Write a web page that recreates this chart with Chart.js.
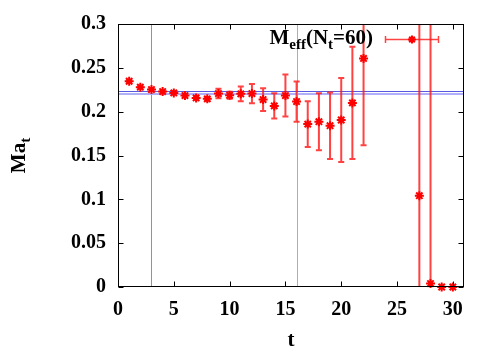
<!DOCTYPE html>
<html>
<head>
<meta charset="utf-8">
<script src="https://cdn.jsdelivr.net/npm/chart.js@4/dist/chart.umd.min.js"></script>
<style>
    html, body { margin: 0; padding: 0; background: #fff; }
    #wrap { width: 500px; height: 350px; }
</style>
</head>
<body>
<div id="wrap"><canvas id="meff-chart" width="500" height="350"></canvas></div>
<script>
// Effective mass data
const tValues  = [1, 2, 3, 4, 5, 6, 7, 8, 9, 10, 11, 12, 13, 14, 15, 16, 17, 18, 19, 20, 21, 22, 27, 28, 29, 30];
const maValues = [0.2347, 0.2279, 0.2252, 0.2229, 0.2214, 0.2184, 0.2157, 0.2146, 0.2207, 0.2187,
                  0.2203, 0.2207, 0.2138, 0.2066, 0.2184, 0.2115, 0.1858, 0.1886, 0.1840, 0.1905,
                  0.2100, 0.2607, 0.1042, 0.0039, 0.0, 0.0];
const maErrors = [0.001, 0.001, 0.001, 0.001, 0.0015, 0.002, 0.002, 0.002, 0.0053, 0.004,
                  0.0084, 0.011, 0.013, 0.0145, 0.024, 0.023, 0.026, 0.0325, 0.038, 0.048,
                  0.064, 0.099, 0.5, 0.5, 0, 0];

// Fit window (vertical lines) and fitted mass (horizontal lines)
const fitWindow = [3, 16];
const fitMass = [0.2234, 0.2204];

// Axis ticks
const xTicks = [0, 5, 10, 15, 20, 25, 30];
const yTicks = [0, 0.05, 0.1, 0.15, 0.2, 0.25, 0.3];
const yTickLabels = ['0', '0.05', '0.1', '0.15', '0.2', '0.25', '0.3'];

const SERIF = "'Liberation Serif', 'Times New Roman', serif";
const RED = 'rgb(255, 0, 0)';
const BAR_RED = 'rgba(255, 20, 20, 0.8)';

// Draws text runs, some of them as subscripts
function drawRuns(ctx, runs, x, y, size, align) {
    const subSize = Math.round(size * 0.72);
    let total = 0;
    runs.forEach(r => {
        ctx.font = 'bold ' + (r.sub ? subSize : size) + 'px ' + SERIF;
        r.w = ctx.measureText(r.text).width;
        total += r.w;
    });
    let cx = x;
    if (align === 'center') cx = x - total / 2;
    if (align === 'right') cx = x - total;
    ctx.textAlign = 'left';
    ctx.textBaseline = 'alphabetic';
    runs.forEach(r => {
        ctx.font = 'bold ' + (r.sub ? subSize : size) + 'px ' + SERIF;
        ctx.fillText(r.text, cx, r.sub ? y + 5 : y);
        cx += r.w;
    });
}

// Error bars, plus the fit lines underneath the points
const errorBars = {
    id: 'errorBars',
    beforeDatasetsDraw(chart) {
        const { ctx, chartArea: a, scales: { x, y } } = chart;
        ctx.save();
        ctx.beginPath();
        ctx.rect(a.left, a.top, a.right - a.left, a.bottom - a.top);
        ctx.clip();

        // fit window
        ctx.strokeStyle = 'rgb(228, 90, 228)';
        fitWindow.forEach((t, i) => {
            ctx.lineWidth = 1;
            ctx.globalAlpha = i === 0 ? 1 : 0.75;
            const px = Math.round(x.getPixelForValue(t)) + 0.5;
            ctx.beginPath();
            ctx.moveTo(px, a.top);
            ctx.lineTo(px, a.bottom);
            ctx.stroke();
        });
        ctx.globalAlpha = 1;

        // fitted mass
        ctx.strokeStyle = 'rgb(90, 90, 225)';
        ctx.lineWidth = 1;
        let py = Math.round(y.getPixelForValue(fitMass[0])) + 0.5;
        ctx.beginPath(); ctx.moveTo(a.left, py); ctx.lineTo(a.right, py); ctx.stroke();
        ctx.strokeStyle = 'rgb(175, 175, 250)';
        ctx.lineWidth = 2;
        py = Math.round(y.getPixelForValue(fitMass[1]));
        ctx.beginPath(); ctx.moveTo(a.left, py); ctx.lineTo(a.right, py); ctx.stroke();

        // vertical error bars
        ctx.strokeStyle = BAR_RED;
        ctx.lineWidth = 2;
        tValues.forEach((t, i) => {
            const e = maErrors[i];
            if (!e) return;
            const px = x.getPixelForValue(t);
            const top = y.getPixelForValue(maValues[i] + e);
            const bot = y.getPixelForValue(maValues[i] - e);
            ctx.beginPath();
            ctx.moveTo(px, top); ctx.lineTo(px, bot);
            ctx.moveTo(px - 3, top); ctx.lineTo(px + 3, top);
            ctx.moveTo(px - 3, bot); ctx.lineTo(px + 3, bot);
            ctx.stroke();
        });
        ctx.restore();
    }
};

// Frame with inward, mirrored ticks, axis titles and the key
const frameAndText = {
    id: 'frameAndText',
    afterDraw(chart) {
        const { ctx, chartArea: a, scales: { x, y } } = chart;
        const L = Math.round(a.left) + 0.5, R = Math.round(a.right) - 0.5;
        const T = Math.round(a.top) + 0.5, B = Math.round(a.bottom) - 0.5;
        ctx.save();
        ctx.strokeStyle = '#000';
        ctx.lineWidth = 1;
        ctx.strokeRect(L, T, R - L, B - T);
        ctx.beginPath();
        xTicks.forEach(v => {
            const px = Math.round(x.getPixelForValue(v)) + 0.5;
            ctx.moveTo(px, B); ctx.lineTo(px, B - 5);
            ctx.moveTo(px, T); ctx.lineTo(px, T + 5);
        });
        yTicks.forEach(v => {
            const py = Math.round(y.getPixelForValue(v)) + 0.5;
            ctx.moveTo(L, py); ctx.lineTo(L + 5, py);
            ctx.moveTo(R, py); ctx.lineTo(R - 5, py);
        });
        ctx.stroke();

        ctx.fillStyle = '#000';
        // x title
        drawRuns(ctx, [{ text: 't' }], (a.left + a.right) / 2, 346, 21, 'center');
        // y title, rotated
        ctx.save();
        ctx.translate(25, (a.top + a.bottom) / 2);
        ctx.rotate(-Math.PI / 2);
        drawRuns(ctx, [{ text: 'Ma' }, { text: 't', sub: true }], 0, 0, 21, 'center');
        ctx.restore();

        // key
        drawRuns(ctx, [{ text: 'M' }, { text: 'eff', sub: true }, { text: '(N' },
                       { text: 't', sub: true }, { text: '=60)' }], 373, 44, 21, 'right');
        ctx.strokeStyle = BAR_RED;
        ctx.lineWidth = 1.5;
        ctx.beginPath();
        ctx.moveTo(385, 39.5); ctx.lineTo(439, 39.5);
        ctx.moveTo(385.5, 36); ctx.lineTo(385.5, 43);
        ctx.moveTo(438.5, 36); ctx.lineTo(438.5, 43);
        ctx.stroke();
        ctx.strokeStyle = RED;
        ctx.lineWidth = 2;
        ctx.beginPath();
        const s = 4;
        ctx.moveTo(412 - s, 39.5); ctx.lineTo(412 + s, 39.5);
        ctx.moveTo(412, 39.5 - s); ctx.lineTo(412, 39.5 + s);
        ctx.moveTo(412 - s * 0.7, 39.5 - s * 0.7); ctx.lineTo(412 + s * 0.7, 39.5 + s * 0.7);
        ctx.moveTo(412 - s * 0.7, 39.5 + s * 0.7); ctx.lineTo(412 + s * 0.7, 39.5 - s * 0.7);
        ctx.stroke();
        ctx.restore();
    }
};

const ctx = document.getElementById('meff-chart').getContext('2d');
const meffChart = new Chart(ctx, {
    type: 'scatter',
    data: {
        datasets: [{
            label: 'M_eff(N_t=60)',
            data: tValues.map((t, i) => ({ x: t, y: maValues[i] })),
            pointStyle: 'star',
            pointRadius: 4.5,
            pointBorderWidth: 2,
            borderColor: RED,
            backgroundColor: RED,
            showLine: false,
            clip: 6
        }]
    },
    options: {
        responsive: false,
        animation: false,
        devicePixelRatio: 1,
        layout: { padding: { top: 24, right: 36, left: 0, bottom: 0 } },
        plugins: {
            legend: { display: false },
            tooltip: { enabled: false }
        },
        scales: {
            x: {
                type: 'linear',
                min: 0,
                max: 31,
                grid: { display: false, drawTicks: false },
                border: { display: false },
                afterBuildTicks: scale => { scale.ticks = xTicks.map(v => ({ value: v })); },
                afterFit: scale => { scale.height = 63; },
                ticks: {
                    padding: 11,
                    color: '#000',
                    maxRotation: 0,
                    font: { family: SERIF, size: 20, weight: 'bold' },
                    callback: v => String(v)
                }
            },
            y: {
                type: 'linear',
                min: 0,
                max: 0.3,
                grid: { display: false, drawTicks: false },
                border: { display: false },
                afterBuildTicks: scale => { scale.ticks = yTicks.map(v => ({ value: v })); },
                afterFit: scale => { scale.width = 118; },
                ticks: {
                    padding: 12,
                    color: '#000',
                    font: { family: SERIF, size: 20, weight: 'bold' },
                    callback: v => yTickLabels[yTicks.indexOf(v)]
                }
            }
        }
    },
    plugins: [errorBars, frameAndText]
});
</script>
</body>
</html>
